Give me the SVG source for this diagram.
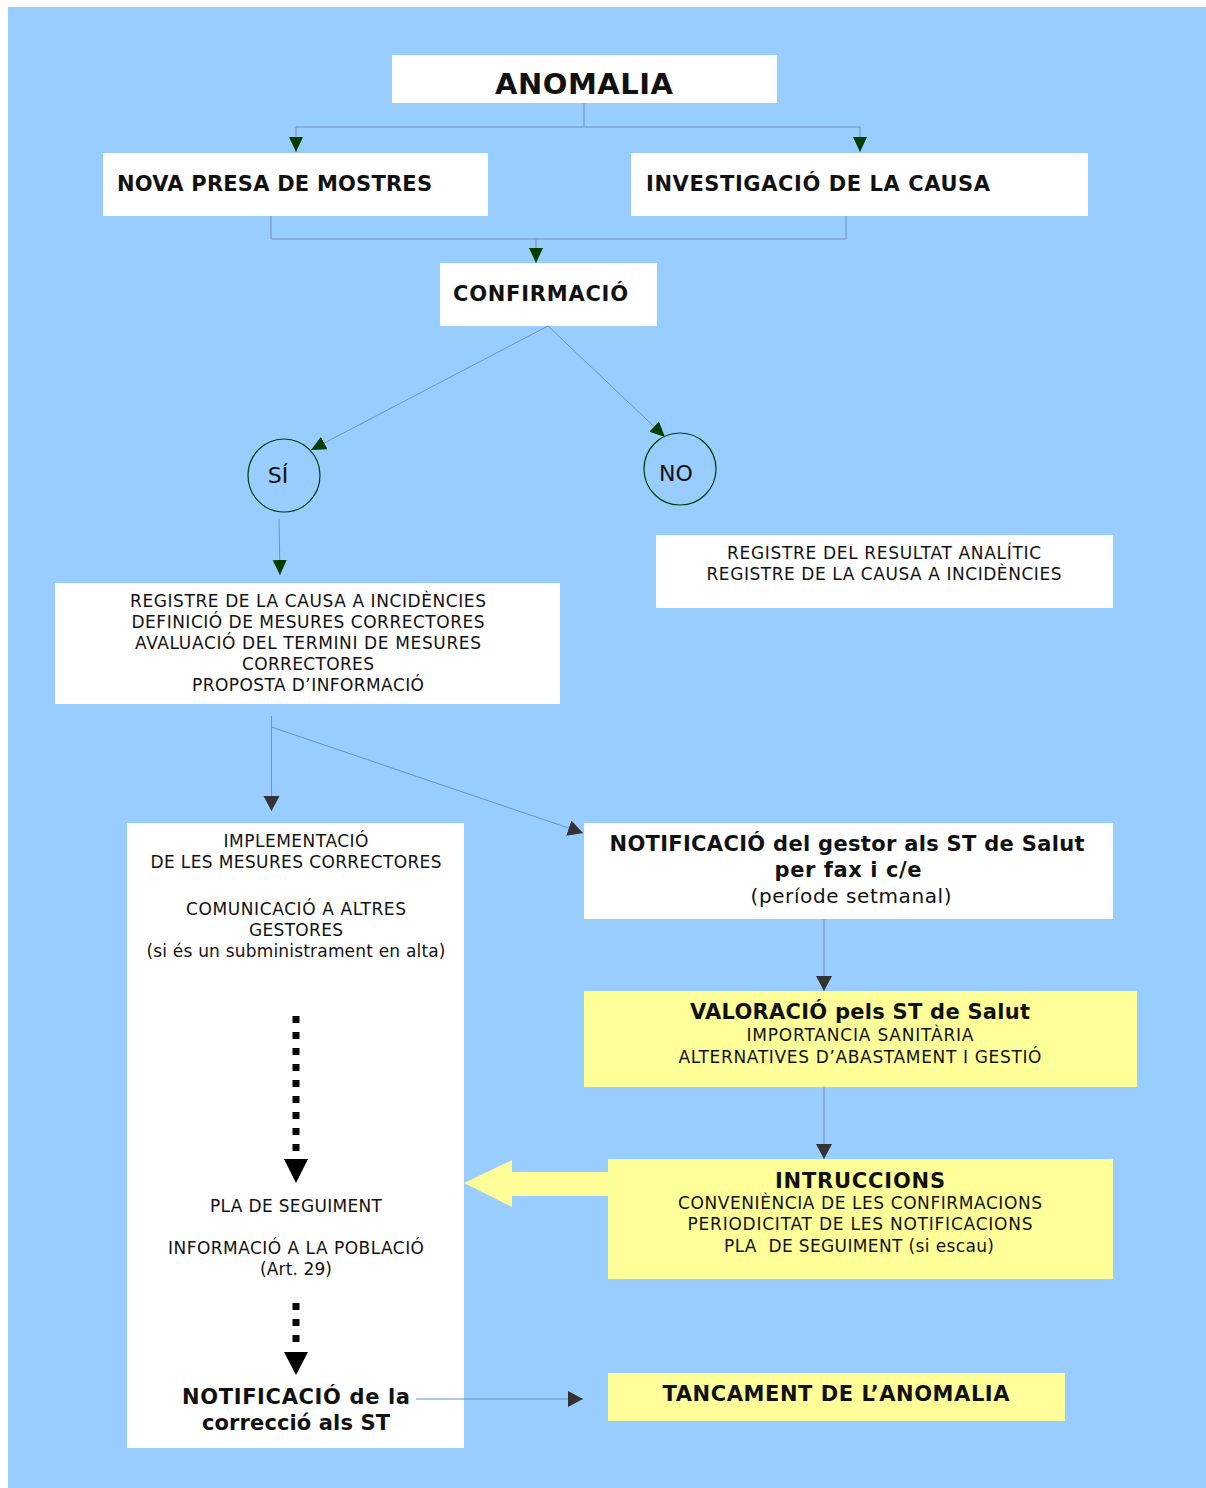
<svg xmlns="http://www.w3.org/2000/svg" width="1206" height="1488" viewBox="0 0 1206 1488">
<style>
text{font-family:"DejaVu Sans",Verdana,"Liberation Sans",sans-serif;fill:#111;text-anchor:middle}
.b{font-weight:bold}
.h{font-size:21px}
.r{font-size:17px}
.st{text-anchor:start}
.box{fill:#fff}
.yel{fill:#ffff99}
.con{fill:none;stroke:#6f93b8;stroke-width:1}
.dot{fill:none;stroke:#000;stroke-width:7;stroke-dasharray:7 9}
</style>
<defs>
<marker id="ag" markerUnits="userSpaceOnUse" markerWidth="16" markerHeight="16" viewBox="0 0 16 16" refX="15" refY="7" orient="auto"><path d="M0,0 L15,7 L0,14 z" fill="#003d00"/></marker>
<marker id="ak" markerUnits="userSpaceOnUse" markerWidth="17" markerHeight="17" viewBox="0 0 17 17" refX="15" refY="8" orient="auto"><path d="M0,0 L15,8 L0,16 z" fill="#333"/></marker>
</defs>
<rect x="0" y="0" width="1206" height="1488" fill="#fff"/>
<rect x="8" y="7" width="1198" height="1481" fill="#99ccff"/>

<g id="anomalia">
<rect class="box" x="392" y="55" width="385" height="48"/>
<text class="b" x="584" y="94" font-size="29" textLength="178">ANOMALIA</text>
</g>

<g id="nova-presa">
<rect class="box" x="103" y="153" width="385" height="63"/>
<text class="b h st" x="117" y="191" textLength="315">NOVA PRESA DE MOSTRES</text>
</g>

<g id="investigacio">
<rect class="box" x="631" y="153" width="457" height="63"/>
<text class="b h st" x="646" y="191" textLength="344">INVESTIGACIÓ DE LA CAUSA</text>
</g>

<g id="confirmacio">
<rect class="box" x="440" y="263" width="217" height="63"/>
<text class="b h st" x="453" y="301" textLength="175">CONFIRMACIÓ</text>
</g>

<g id="si">
<ellipse cx="284" cy="475.5" rx="36" ry="36.5" fill="none" stroke="#003d00" stroke-width="1.2"/>
<text x="278" y="483" font-size="22">SÍ</text>
</g>

<g id="no">
<ellipse cx="680" cy="469" rx="36" ry="36" fill="none" stroke="#003d00" stroke-width="1.2"/>
<text x="676" y="481" font-size="22">NO</text>
</g>

<g id="registre-si">
<rect class="box" x="55" y="583" width="505" height="121"/>
<text class="r" x="308" y="607" textLength="356">REGISTRE DE LA CAUSA A INCIDÈNCIES</text>
<text class="r" x="308" y="628" textLength="353">DEFINICIÓ DE MESURES CORRECTORES</text>
<text class="r" x="308" y="649" textLength="346">AVALUACIÓ DEL TERMINI DE MESURES</text>
<text class="r" x="308" y="670" textLength="132">CORRECTORES</text>
<text class="r" x="308" y="691" textLength="232">PROPOSTA D’INFORMACIÓ</text>
</g>

<g id="registre-no">
<rect class="box" x="656" y="535" width="457" height="73"/>
<text class="r" x="884" y="559" textLength="314">REGISTRE DEL RESULTAT ANALÍTIC</text>
<text class="r" x="884" y="580" textLength="355">REGISTRE DE LA CAUSA A INCIDÈNCIES</text>
</g>

<g id="implementacio">
<rect class="box" x="127" y="823" width="337" height="625"/>
<text class="r" x="296" y="847" textLength="145">IMPLEMENTACIÓ</text>
<text class="r" x="296" y="868" textLength="291">DE LES MESURES CORRECTORES</text>
<text class="r" x="296" y="915" textLength="220">COMUNICACIÓ A ALTRES</text>
<text class="r" x="296" y="936" textLength="94">GESTORES</text>
<text class="r" x="296" y="957" textLength="299">(si és un subministrament en alta)</text>
<line class="dot" x1="296" y1="1016" x2="296" y2="1151"/>
<polygon points="284,1159 308,1159 296,1183" fill="#000"/>
<text class="r" x="296" y="1212" textLength="172">PLA DE SEGUIMENT</text>
<text class="r" x="296" y="1254" textLength="256">INFORMACIÓ A LA POBLACIÓ</text>
<text class="r" x="296" y="1275" textLength="72">(Art. 29)</text>
<line class="dot" x1="296" y1="1303" x2="296" y2="1342"/>
<polygon points="284,1352 308,1352 296,1375" fill="#000"/>
<text class="b h" x="296" y="1404" textLength="228">NOTIFICACIÓ de la</text>
<text class="b h" x="296" y="1430" textLength="188">correcció als ST</text>
</g>

<g id="notificacio-gestor">
<rect class="box" x="584" y="823" width="529" height="96"/>
<text class="b h" x="847" y="851" textLength="475">NOTIFICACIÓ del gestor als ST de Salut</text>
<text class="b h" x="848" y="877" textLength="147">per fax i c/e</text>
<text x="851" y="903" font-size="20" textLength="201">(període setmanal)</text>
</g>

<g id="valoracio">
<rect class="yel" x="584" y="991" width="553" height="96"/>
<text class="b h" x="860" y="1019" textLength="340">VALORACIÓ pels ST de Salut</text>
<text class="r" x="860" y="1041" textLength="227">IMPORTANCIA SANITÀRIA</text>
<text class="r" x="860" y="1063" textLength="363">ALTERNATIVES D’ABASTAMENT I GESTIÓ</text>
</g>

<g id="intruccions">
<rect class="yel" x="608" y="1159" width="505" height="120"/>
<text class="b h" x="860" y="1188" textLength="170">INTRUCCIONS</text>
<text class="r" x="860" y="1209" textLength="364">CONVENIÈNCIA DE LES CONFIRMACIONS</text>
<text class="r" x="860" y="1230" textLength="345">PERIODICITAT DE LES NOTIFICACIONS</text>
<text class="r" x="859" y="1252" textLength="270" xml:space="preserve">PLA  DE SEGUIMENT (si escau)</text>
</g>

<g id="tancament">
<rect class="yel" x="608" y="1373" width="457" height="48"/>
<text class="b h" x="836" y="1401" textLength="347">TANCAMENT DE L’ANOMALIA</text>
</g>

<g id="connectors">
<path class="con" d="M584,103 V127 H296 V152" marker-end="url(#ag)"/>
<path class="con" d="M584,127 H860 V152" marker-end="url(#ag)"/>
<path class="con" d="M271,216 V239 H846 V216"/>
<path class="con" d="M536,239 V263" marker-end="url(#ag)"/>
<path class="con" d="M548,326 L311,450" marker-end="url(#ag)"/>
<path class="con" d="M548,326 L665,437" marker-end="url(#ag)"/>
<path class="con" d="M279,519 L280,575" marker-end="url(#ag)"/>
<path class="con" d="M271.5,716 V811" marker-end="url(#ak)"/>
<path class="con" d="M271.5,727 L583,833" marker-end="url(#ak)"/>
<path class="con" d="M824,919 V991" marker-end="url(#ak)"/>
<path class="con" d="M824,1087 V1159" marker-end="url(#ak)"/>
<path class="con" d="M416,1399 H583" marker-end="url(#ak)"/>
<polygon points="464,1183 512,1160 512,1172 609,1172 609,1196 512,1196 512,1207" fill="#ffff99"/>
</g>
</svg>
